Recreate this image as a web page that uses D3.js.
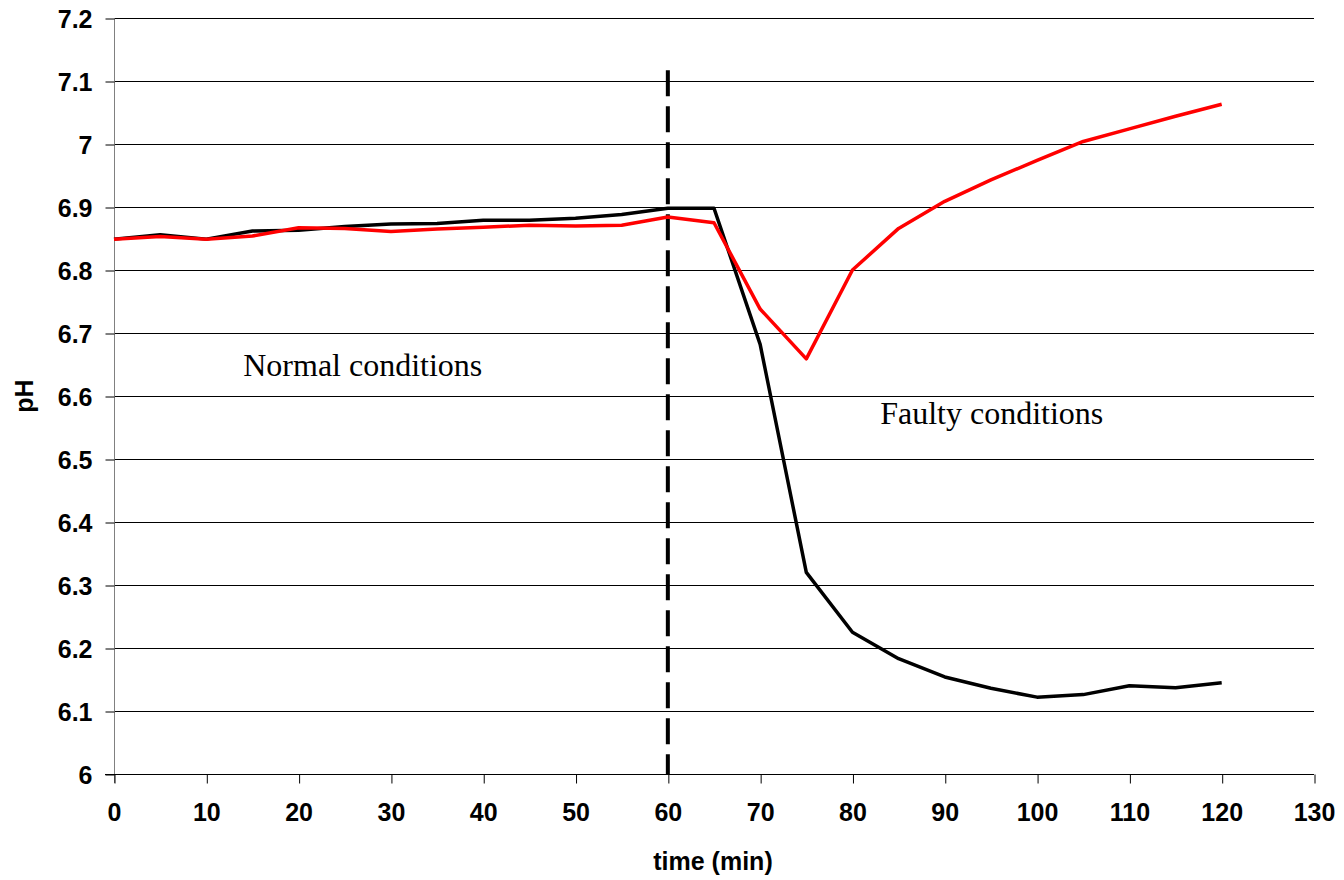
<!DOCTYPE html>
<html>
<head>
<meta charset="utf-8">
<script src="https://cdn.jsdelivr.net/npm/d3@7"></script>
<style>
  body { margin: 0; background: #fff; }
  .tick-label { font-family: "Liberation Sans", Arial, sans-serif; font-weight: bold; font-size: 25px; fill: #000; }
  .note { font-family: "Liberation Serif", "Times New Roman", serif; font-size: 32px; fill: #000; }
</style>
</head>
<body>
<div id="chart"></div>
<script>
// time points (min)
const times = [0, 5, 10, 15, 20, 25, 30, 35, 40, 45, 50, 55, 60,
               65, 70, 75, 80, 85, 90, 95, 100, 105, 110, 115, 120];

// black series (pH)
const phBlack = [6.849, 6.856, 6.849, 6.862, 6.863, 6.869, 6.873, 6.874, 6.879, 6.879, 6.882, 6.888, 6.898,
                 6.898, 6.682, 6.320, 6.225, 6.183, 6.154, 6.136, 6.122, 6.126, 6.140, 6.137, 6.145];

// red series (pH)
const phRed = [6.849, 6.853, 6.849, 6.854, 6.867, 6.866, 6.861, 6.865, 6.868, 6.871, 6.870, 6.871, 6.884,
               6.875, 6.738, 6.659, 6.800, 6.866, 6.909, 6.943, 6.974, 7.004, 7.024, 7.044, 7.063];

// axis ticks
const xTicks = [0, 10, 20, 30, 40, 50, 60, 70, 80, 90, 100, 110, 120, 130];
const yTicks = [6, 6.1, 6.2, 6.3, 6.4, 6.5, 6.6, 6.7, 6.8, 6.9, 7, 7.1, 7.2];

// fault onset marker
const faultTime = 60;
const faultTop = 7.117;

// annotations
const notes = [
  {text: "Normal conditions", t: 14, ph: 6.631},
  {text: "Faulty conditions", t: 83, ph: 6.556}
];

const margin = {top: 18, right: 30, bottom: 106, left: 114};
const width = 1344 - margin.left - margin.right;   // 1200
const height = 880 - margin.top - margin.bottom;   // 756

const svg = d3.select("#chart")
  .append("svg")
    .attr("width", 1344)
    .attr("height", 880)
  .append("g")
    .attr("transform", `translate(${margin.left}, ${margin.top})`);

const xScale = d3.scaleLinear().domain([0, 130]).range([0, width]);
const yScale = d3.scaleLinear().domain([6, 7.2]).range([height, 0]);

// horizontal grid lines
svg.append("g")
  .selectAll("line")
  .data(yTicks.filter(d => d > 6))
  .join("line")
    .attr("x1", 0)
    .attr("x2", width)
    .attr("y1", d => Math.round(yScale(d)) + 0.5)
    .attr("y2", d => Math.round(yScale(d)) + 0.5)
    .attr("stroke", "#000")
    .attr("stroke-width", 1);

// Y axis
const yAxis = svg.append("g")
  .attr("transform", "translate(0.5, 0)")
  .call(d3.axisLeft(yScale).tickValues(yTicks).tickSize(9).tickPadding(13)
    .tickFormat(d => d3.format("")(+d.toFixed(1))));
yAxis.select(".domain").attr("stroke", "#808080").attr("d", `M0,${height + 9}V0`);
yAxis.selectAll(".tick line").attr("stroke", "#000").attr("transform", "translate(0,0.5)");
yAxis.selectAll(".tick text").attr("class", "tick-label").attr("dy", "0.36em");

// X axis
const xAxis = svg.append("g")
  .attr("transform", `translate(0, ${height + 0.5})`)
  .call(d3.axisBottom(xScale).tickValues(xTicks).tickSize(9).tickPadding(20));
xAxis.select(".domain").attr("stroke", "#000").attr("d", `M-9,0H${width}`);
xAxis.selectAll(".tick line").attr("stroke", "#000").attr("transform", "translate(0.5,0)");
xAxis.selectAll(".tick text").attr("class", "tick-label");

// dashed marker line
svg.append("line")
  .attr("x1", xScale(faultTime))
  .attr("x2", xScale(faultTime))
  .attr("y1", yScale(faultTop))
  .attr("y2", yScale(6))
  .attr("stroke", "#000")
  .attr("stroke-width", 4)
  .attr("stroke-dasharray", "26,10");

// series lines
const line = d3.line()
  .x((d, i) => xScale(times[i]))
  .y(d => yScale(d));

svg.append("path")
  .datum(phBlack)
  .attr("fill", "none")
  .attr("stroke", "#000")
  .attr("stroke-width", 3.5)
  .attr("stroke-linejoin", "round")
  .attr("d", line);

svg.append("path")
  .datum(phRed)
  .attr("fill", "none")
  .attr("stroke", "#ff0000")
  .attr("stroke-width", 3.5)
  .attr("stroke-linejoin", "round")
  .attr("d", line);

// annotations
svg.selectAll(".note")
  .data(notes)
  .join("text")
    .attr("class", "note")
    .attr("x", d => xScale(d.t))
    .attr("y", d => yScale(d.ph))
    .text(d => d.text);

// axis titles
svg.append("text")
  .attr("class", "tick-label")
  .attr("x", 599)
  .attr("y", height + 96)
  .attr("text-anchor", "middle")
  .text("time (min)");

svg.append("text")
  .attr("class", "tick-label")
  .attr("transform", `translate(${33 - margin.left}, ${height / 2}) rotate(-90)`)
  .attr("text-anchor", "middle")
  .text("pH");
</script>
</body>
</html>
